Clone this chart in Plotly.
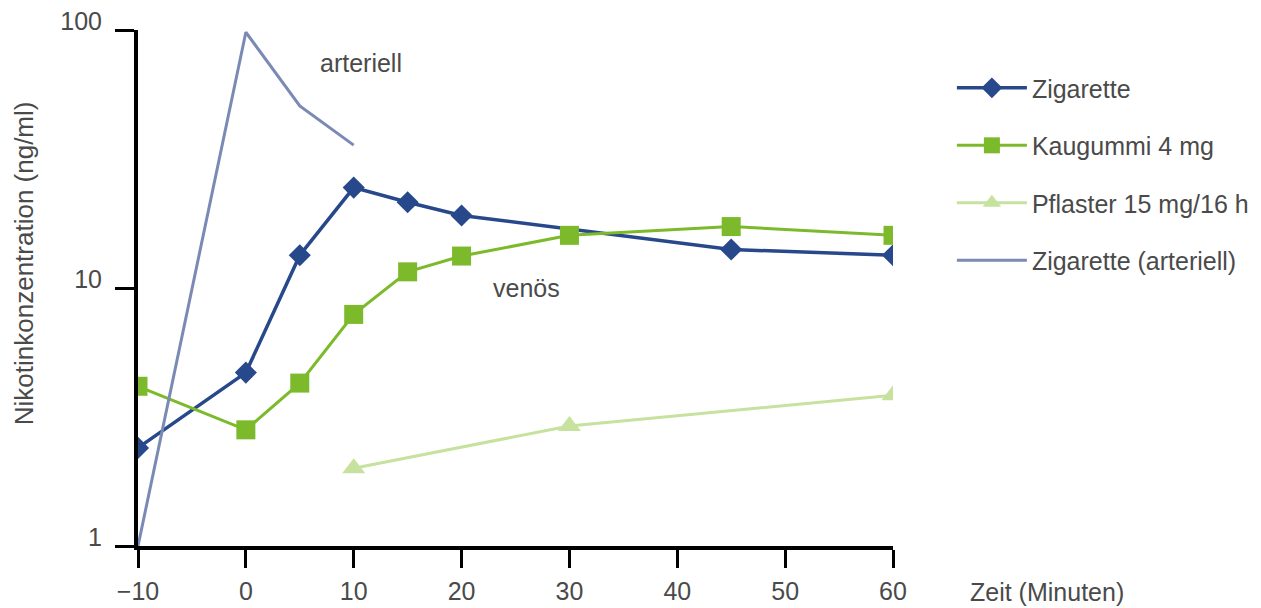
import plotly.graph_objects as go

# Zeitpunkte (Minuten) und Nikotinkonzentrationen (ng/ml)
zeit_zigarette = [-10, 0, 5, 10, 15, 20, 45, 60]
konz_zigarette = [2.4, 4.7, 13.4, 24.5, 21.5, 19.1, 14.1, 13.4]

zeit_kaugummi = [-10, 0, 5, 10, 15, 20, 30, 45, 60]
konz_kaugummi = [4.16, 2.82, 4.28, 7.9, 11.55, 13.3, 16.0, 17.3, 16.0]

zeit_pflaster = [10, 30, 60]
konz_pflaster = [2.0, 2.92, 3.84]

zeit_arteriell = [-10, 0, 5, 10]
konz_arteriell = [1.0, 98.0, 50.8, 35.8]

x_ticks = [-10, 0, 10, 20, 30, 40, 50, 60]
y_ticks = [1, 10, 100]
y_ticklabels = ["1", "10", "100"]

FONT = "Liberation Sans"
TEXT = "#4a4a4a"

fig = go.Figure()

fig.add_trace(go.Scatter(
    x=zeit_zigarette, y=konz_zigarette, name="Zigarette", legendgroup="a",
    mode="lines+markers",
    line=dict(color="#27488a", width=3.5),
    marker=dict(symbol="diamond", size=17, color="#27488a"),
))
fig.add_trace(go.Scatter(
    x=zeit_kaugummi, y=konz_kaugummi, name="Kaugummi 4 mg", legendgroup="b",
    mode="lines+markers",
    line=dict(color="#7cba2b", width=3),
    marker=dict(symbol="square", size=19, color="#7cba2b"),
))
fig.add_trace(go.Scatter(
    x=zeit_pflaster, y=konz_pflaster, name="Pflaster 15 mg/16 h", legendgroup="c",
    mode="lines+markers",
    line=dict(color="#c6e29e", width=3),
    marker=dict(symbol="triangle-up", size=20, color="#c6e29e"),
))
fig.add_trace(go.Scatter(
    x=zeit_arteriell, y=konz_arteriell, name="Zigarette (arteriell)", legendgroup="d",
    mode="lines",
    line=dict(color="#7b89b5", width=3),
))

fig.update_layout(
    width=1261, height=608,
    margin=dict(l=138, r=368, t=30, b=62, autoexpand=False),
    paper_bgcolor="white", plot_bgcolor="white",
    font=dict(family=FONT, size=25, color=TEXT),
    showlegend=True,
    legend=dict(
        x=1.078, y=0.932, xanchor="left", yanchor="top",
        font=dict(family=FONT, size=25, color=TEXT),
        tracegroupgap=22, itemwidth=70,
        bgcolor="rgba(0,0,0,0)",
    ),
    xaxis=dict(
        range=[-10, 60], tickvals=x_ticks,
        showgrid=False, zeroline=False,
        showline=True, linecolor="black", linewidth=4,
        ticks="outside", ticklen=18, tickwidth=3, tickcolor="black",
        tickfont=dict(family=FONT, size=25, color=TEXT),
        ticklabelstandoff=2,
    ),
    yaxis=dict(
        type="log", range=[0, 2], tickvals=y_ticks, ticktext=y_ticklabels,
        showgrid=False, zeroline=False,
        showline=True, linecolor="black", linewidth=4,
        ticks="outside", ticklen=19, tickwidth=3, tickcolor="black",
        tickfont=dict(family=FONT, size=25, color=TEXT),
        ticklabelshift=-9, ticklabelstandoff=8,
    ),
    annotations=[
        dict(text="Nikotinkonzentration (ng/ml)", xref="paper", yref="paper",
             x=-0.151, y=0.548, textangle=-90, showarrow=False,
             xanchor="center", yanchor="middle", font=dict(size=26)),
        dict(text="Zeit (Minuten)", xref="paper", yref="paper",
             x=1.099, y=-0.089, showarrow=False,
             xanchor="left", yanchor="middle", font=dict(size=25)),
        dict(text="arteriell", xref="paper", yref="paper",
             x=0.295, y=0.936, showarrow=False,
             xanchor="center", yanchor="middle", font=dict(size=25)),
        dict(text="venös", xref="paper", yref="paper",
             x=0.515, y=0.5, showarrow=False,
             xanchor="center", yanchor="middle", font=dict(size=25)),
    ],
)

fig.write_html("out.html")
